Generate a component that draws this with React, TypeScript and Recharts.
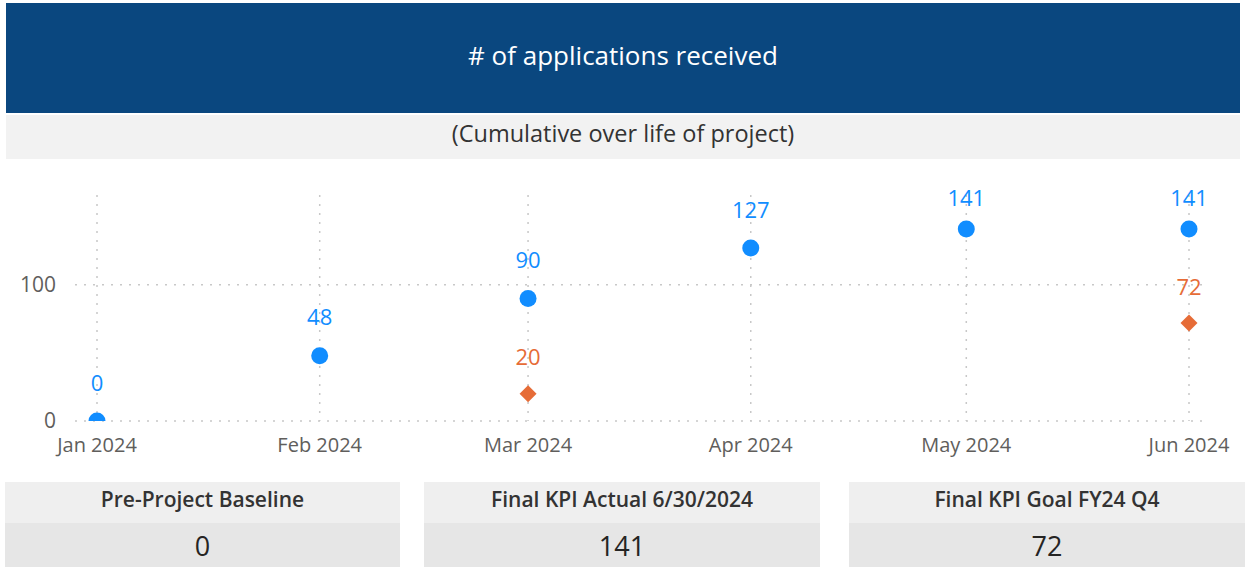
import { ScatterChart, Scatter, XAxis, YAxis, CartesianGrid } from 'recharts'

// month starts (x positions come from the time scale)
const months = ['2024-01-01', '2024-02-01', '2024-03-01', '2024-04-01', '2024-05-01', '2024-06-01']
const tickLabels = ['Jan 2024', 'Feb 2024', 'Mar 2024', 'Apr 2024', 'May 2024', 'Jun 2024']
const actualValues = [0, 48, 90, 127, 141, 141]
const goalValues: (number | null)[] = [null, null, 20, null, null, 72]
const yTicks = [0, 100]
const yMax = 166

const cardTitles = ['Pre-Project Baseline', 'Final KPI Actual 6/30/2024', 'Final KPI Goal FY24 Q4']
const cardValues = [0, 141, 72]

const FONT = "'Open Sans', 'Noto Sans', sans-serif"
const BLUE = '#118DFF'
const ORANGE = '#E66C37'

const CHART_TOP = 160
const MARGIN_TOP = 35

const ts = months.map((m) => new Date(m + 'T00:00:00Z').getTime())

const actualData = ts.map((t, i) => ({ t, v: actualValues[i] }))
const goalData = ts
  .map((t, i) => ({ t, v: goalValues[i] }))
  .filter((d) => d.v !== null)

const fmtTick = (t: number) => tickLabels[ts.indexOf(t)] ?? ''

const Dot = (props: any) => <circle cx={props.cx} cy={props.cy} r={8.5} fill={BLUE} />

const Diamond = (props: any) => {
  const { cx, cy } = props
  const s = 8.5
  return <path d={`M${cx},${cy - s}L${cx + s},${cy}L${cx},${cy + s}L${cx - s},${cy}Z`} fill={ORANGE} />
}

// labels sit above the marker, but never above the top of the plot
const makeLabel = (color: string, offset: number) => (props: any) => {
  const { cx, cy, payload } = props
  const y = Math.max(cy - offset, MARGIN_TOP + 3)
  return (
    <text x={cx} y={y} dy="0.35em" textAnchor="middle" fill={color} fontSize={22} fontFamily={FONT}>
      {payload.v}
    </text>
  )
}

function Card({ x, w, title, value }: { x: number; w: number; title: string; value: number }) {
  return (
    <div style={{ position: 'absolute', left: x, top: 482, width: w, fontFamily: FONT }}>
      <div
        style={{
          height: 41,
          boxSizing: 'border-box',
          paddingBottom: 8,
          background: '#efefef',
          color: '#333333',
          fontSize: 21,
          fontWeight: 600,
          display: 'flex',
          alignItems: 'center',
          justifyContent: 'center',
        }}
      >
        {title}
      </div>
      <div
        style={{
          height: 44,
          background: '#e6e6e6',
          color: '#252423',
          fontSize: 27,
          display: 'flex',
          alignItems: 'center',
          justifyContent: 'center',
        }}
      >
        {value}
      </div>
    </div>
  )
}

export default function App() {
  const cardBoxes = [
    { x: 5, w: 395 },
    { x: 424, w: 396 },
    { x: 849, w: 396 },
  ]
  return (
    <div style={{ position: 'absolute', left: 0, top: 0, width: 1245, height: 567, background: '#fff', overflow: 'hidden' }}>
      {/* title bar */}
      <div
        style={{
          position: 'absolute',
          left: 6,
          top: 3,
          width: 1234,
          height: 110,
          boxSizing: 'border-box',
          paddingBottom: 6,
          background: '#0A477F',
          color: '#fff',
          fontFamily: FONT,
          fontSize: 26,
          display: 'flex',
          alignItems: 'center',
          justifyContent: 'center',
        }}
      >
        # of applications received
      </div>
      <div
        style={{
          position: 'absolute',
          left: 6,
          top: 115,
          width: 1234,
          height: 44,
          boxSizing: 'border-box',
          paddingBottom: 8,
          background: '#f2f2f2',
          color: '#333333',
          fontFamily: FONT,
          fontSize: 23.5,
          display: 'flex',
          alignItems: 'center',
          justifyContent: 'center',
        }}
      >
        (Cumulative over life of project)
      </div>

      <div style={{ position: 'absolute', left: 0, top: CHART_TOP }}>
        <ScatterChart width={1245} height={300} margin={{ top: MARGIN_TOP, right: 43, bottom: 0, left: 0 }}>
          <CartesianGrid yAxisId="main" syncWithTicks stroke="#c8c8c8" strokeDasharray="2 7" strokeWidth={1.5} />
          <XAxis
            type="number"
            dataKey="t"
            domain={[ts[0], ts[ts.length - 1]]}
            ticks={ts}
            tickFormatter={fmtTick}
            padding={{ left: 22, right: 13 }}
            height={39}
            axisLine={false}
            tickLine={false}
            tickSize={0}
            tickMargin={17}
            interval={0}
            tick={{ fill: '#605E5C', fontSize: 20, fontFamily: FONT }}
          />
          <YAxis
            yAxisId="main"
            type="number"
            dataKey="v"
            domain={[0, yMax]}
            ticks={yTicks}
            allowDataOverflow
            width={75}
            axisLine={false}
            tickLine={false}
            tickSize={0}
            tickMargin={19}
            tick={{ fill: '#605E5C', fontSize: 21, fontFamily: FONT }}
          />
          <YAxis yAxisId="lbl" orientation="right" type="number" dataKey="v" domain={[0, yMax]} hide />
          <Scatter yAxisId="main" data={actualData} shape={Dot} isAnimationActive={false} />
          <Scatter yAxisId="main" data={goalData} shape={Diamond} isAnimationActive={false} />
          <Scatter yAxisId="lbl" data={actualData} shape={makeLabel(BLUE, 38)} isAnimationActive={false} />
          <Scatter yAxisId="lbl" data={goalData} shape={makeLabel(ORANGE, 36)} isAnimationActive={false} />
        </ScatterChart>
      </div>

      {cardBoxes.map((b, i) => (
        <Card key={i} x={b.x} w={b.w} title={cardTitles[i]} value={cardValues[i]} />
      ))}
    </div>
  )
}
